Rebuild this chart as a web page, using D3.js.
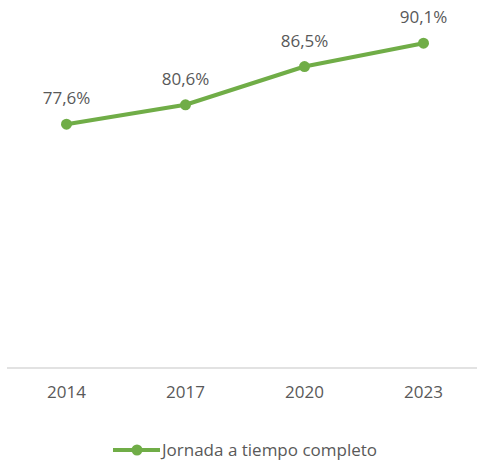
<!DOCTYPE html>
<html>
<head>
<meta charset="utf-8">
<script src="https://cdn.jsdelivr.net/npm/d3@7"></script>
<style>
    body { margin: 0; background: #fff; }
    text { font-family: "Open Sans", sans-serif; fill: #595959; }
</style>
</head>
<body>
<div id="chart"></div>
<script>
var years = ["2014", "2017", "2020", "2023"];
var values = [77.6, 80.6, 86.5, 90.1];
var seriesName = "Jornada a tiempo completo";

var width = 477, height = 463;
var green = "#70ad47";

var svg = d3.select("#chart").append("svg")
    .attr("width", width)
    .attr("height", height);

// x: one band per year, the point sits at the band centre
var xScale = d3.scaleBand()
    .domain(years)
    .range([7, 483]);

// y: axis line sits at 40, scale chosen so 90.1 lands near the top
var yScale = d3.scaleLinear()
    .domain([40, 100])
    .range([368, -21]);

var data = years.map((y, i) => ({ year: y, value: values[i] }));

// x axis
var xAxis = svg.append("g")
    .attr("class", "x axis")
    .attr("transform", "translate(0,368)")
    .call(d3.axisBottom(xScale).tickSize(0).tickPadding(18));
xAxis.select(".domain").attr("stroke", "#d9d9d9").attr("stroke-width", 1.5)
    .attr("d", "M7,0H477");
xAxis.selectAll("text")
    .style("font-size", "17px")
    .style("fill", "#595959")
    .style("font-family", "'Open Sans', sans-serif");

var line = d3.line()
    .x(d => xScale(d.year) + xScale.bandwidth() / 2)
    .y(d => yScale(d.value));

svg.append("path")
    .datum(data)
    .attr("class", "line")
    .attr("d", line)
    .style("fill", "none")
    .style("stroke", green)
    .style("stroke-width", 4)
    .style("stroke-linejoin", "round");

svg.selectAll(".dot")
    .data(data)
    .enter().append("circle")
    .attr("class", "dot")
    .attr("cx", d => xScale(d.year) + xScale.bandwidth() / 2)
    .attr("cy", d => yScale(d.value))
    .attr("r", 5.5)
    .style("fill", green);

svg.selectAll(".label")
    .data(data)
    .enter().append("text")
    .attr("class", "label")
    .attr("x", d => xScale(d.year) + xScale.bandwidth() / 2)
    .attr("y", d => yScale(d.value) - 20)
    .attr("text-anchor", "middle")
    .style("font-size", "17px")
    .text(d => d.value.toFixed(1).replace(".", ",") + "%");

// legend
var legend = svg.append("g").attr("class", "legend")
    .attr("transform", "translate(113,450)");
legend.append("line")
    .attr("x1", 0).attr("x2", 47)
    .attr("y1", 0).attr("y2", 0)
    .style("stroke", green)
    .style("stroke-width", 4);
legend.append("circle")
    .attr("cx", 24).attr("cy", 0).attr("r", 5.5)
    .style("fill", green);
legend.append("text")
    .attr("x", 49).attr("y", 0)
    .attr("dy", "0.35em")
    .style("font-size", "17px")
    .text(seriesName);
</script>
</body>
</html>
